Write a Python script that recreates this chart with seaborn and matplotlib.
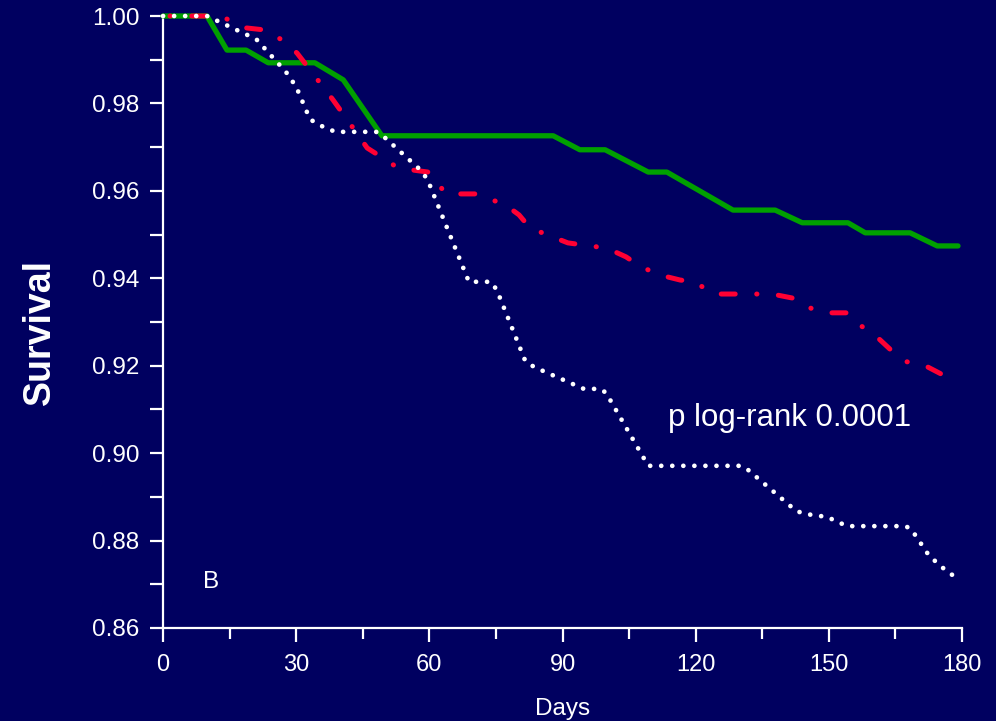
import numpy as np
import pandas as pd
import matplotlib
matplotlib.use("Agg")
import matplotlib.pyplot as plt
from matplotlib.ticker import MultipleLocator, FormatStrFormatter
import seaborn as sns

# ---- data ----
green_days = [0, 9.9, 14.4, 18.7, 23.7, 34.2, 40.6, 49.3, 87.9, 93.9, 99.6, 109.3,
              113.5, 128.4, 137.9, 144.0, 154.3, 158.2, 168.3, 174.4, 179.1]
green_surv = [1.0, 1.0, 0.9922, 0.9922, 0.9893, 0.9893, 0.9854, 0.9726, 0.9726, 0.9694,
              0.9694, 0.9643, 0.9643, 0.9556, 0.9556, 0.9527, 0.9527, 0.9504, 0.9504,
              0.9474, 0.9474]

red_days = [0, 10.6, 14.0, 18.5, 23.0, 27.5, 30.2, 33.1, 38.3, 43.3, 46.0, 49.1, 53.0,
            59.7, 63.8, 70.3, 72.1, 76.6, 80.2, 82.7, 87.2, 91.2, 96.2, 100.0, 104.3,
            107.4, 111.7, 116.5, 119.8, 123.9, 137.2, 141.7, 145.1, 149.6, 154.1, 157.0,
            160.8, 164.5, 167.6, 171.9, 179.1]
red_surv = [1.0, 1.0, 0.9995, 0.9973, 0.9968, 0.9941, 0.9915, 0.9877, 0.9808, 0.9737,
            0.9698, 0.9678, 0.9652, 0.9643, 0.9593, 0.9593, 0.9584, 0.9572, 0.9545,
            0.9515, 0.9497, 0.9481, 0.9474, 0.9469, 0.9449, 0.9428, 0.9408, 0.9396,
            0.9392, 0.9364, 0.9364, 0.9355, 0.9334, 0.9321, 0.9321, 0.9293, 0.9266,
            0.9231, 0.9209, 0.9199, 0.9161]

white_days = [0, 9.9, 21.0, 27.7, 30.0, 33.1, 35.1, 38.8, 48.0, 49.3, 58.3, 59.7, 68.9,
              73.9, 75.2, 81.6, 83.6, 94.8, 98.5, 99.8, 109.3, 130.0, 131.3, 142.6,
              144.6, 149.6, 154.1, 167.2, 168.5, 172.6, 176.2, 179.1]
white_surv = [1.0, 1.0, 0.9947, 0.9872, 0.9838, 0.9764, 0.9751, 0.9735, 0.9735, 0.9728,
              0.9645, 0.9623, 0.9392, 0.9392, 0.9373, 0.9211, 0.9197, 0.9147, 0.9147,
              0.9138, 0.8971, 0.8971, 0.8966, 0.8868, 0.8861, 0.8854, 0.8833, 0.8833,
              0.8827, 0.8765, 0.8733, 0.8712]

x_ticks = [0, 30, 60, 90, 120, 150, 180]
y_ticks = [0.86, 0.88, 0.90, 0.92, 0.94, 0.96, 0.98, 1.00]

BG = "#000060"
FONT = ["Liberation Sans", "DejaVu Sans"]

sns.set_style("ticks")
plt.rcParams["font.family"] = FONT
plt.rcParams["lines.solid_capstyle"] = "round"
plt.rcParams["lines.dash_capstyle"] = "round"

fig = plt.figure(figsize=(9.96, 7.21), dpi=100, facecolor=BG)
ax = fig.add_axes([0.1637, 0.1290, 0.8022, 0.8488])
ax.set_facecolor(BG)

sns.lineplot(x=green_days, y=green_surv, ax=ax, color="#00a000", lw=3.8,
             sort=False, estimator=None, clip_on=False, zorder=3)
sns.lineplot(x=red_days, y=red_surv, ax=ax, color="#ff0033", lw=3.6,
             sort=False, estimator=None, clip_on=False, zorder=4)
sns.lineplot(x=white_days, y=white_surv, ax=ax, color="white", lw=3.4,
             sort=False, estimator=None, clip_on=False, zorder=5)
lines = ax.get_lines()
lines[1].set_linestyle((5.7, (2.8, 4.3, 0.05, 4.3)))
lines[1].set_dash_capstyle("round")
lines[2].set_linestyle((0, (0.01, 2.33)))
lines[2].set_dash_capstyle("round")

ax.set_xlim(0, 180)
ax.set_ylim(0.86, 1.00)
ax.set_xticks(x_ticks)
ax.set_yticks(y_ticks)
ax.xaxis.set_minor_locator(MultipleLocator(15))
ax.yaxis.set_minor_locator(MultipleLocator(0.01))
ax.yaxis.set_major_formatter(FormatStrFormatter("%.2f"))

for s in ["top", "right"]:
    ax.spines[s].set_visible(False)
for s in ["left", "bottom"]:
    ax.spines[s].set_color("white")
    ax.spines[s].set_linewidth(1.6)

ax.tick_params(axis="both", which="both", colors="white", direction="out", width=1.6,
               bottom=True, left=True, top=False, right=False)
ax.tick_params(axis="x", which="major", length=10, pad=9, labelsize=17)
ax.tick_params(axis="x", which="minor", length=8)
ax.tick_params(axis="y", which="major", length=9.5, pad=7.5, labelsize=17.5)
ax.tick_params(axis="y", which="minor", length=9.5)

ax.set_xlabel("Days", color="white", fontsize=17.5)
ax.xaxis.set_label_coords(0.5, -0.114)
ax.set_ylabel("Survival", color="white", fontsize=27, fontweight="bold")
ax.yaxis.set_label_coords(-0.131, 0.484)

ax.text(113.8, 0.908, "p log-rank 0.0001", color="white", fontsize=22.5,
        ha="left", va="center")
ax.text(10.8, 0.8705, "B", color="white", fontsize=17.5, ha="center", va="center")

fig.savefig("out.png", dpi=100, facecolor=BG)
